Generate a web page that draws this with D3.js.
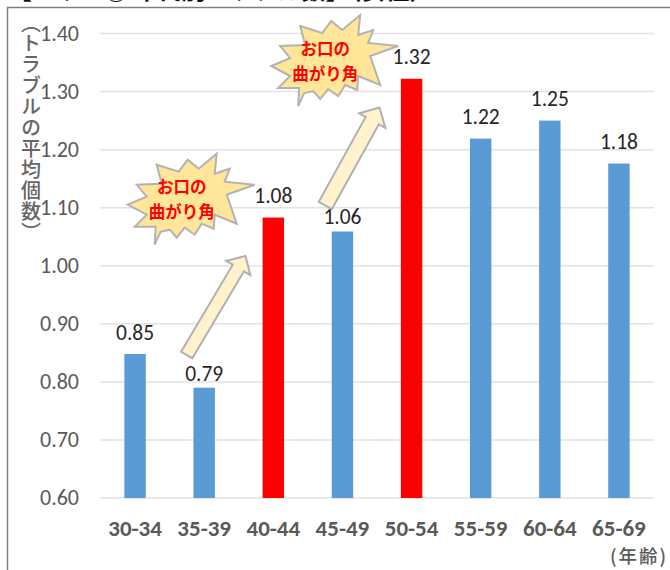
<!DOCTYPE html>
<html><head><meta charset="utf-8">
<style>html,body{margin:0;padding:0;background:#fff}svg{display:block}</style>
<script src="https://cdn.jsdelivr.net/npm/d3@7/dist/d3.min.js"></script></head>
<body><svg id="c" width="670" height="570"></svg>
<script>
const categories=["30-34","35-39","40-44","45-49","50-54","55-59","60-64","65-69"];
const values=[0.848,0.79,1.083,1.059,1.322,1.219,1.25,1.176];
const valueLabels=["0.85","0.79","1.08","1.06","1.32","1.22","1.25","1.18"];
const highlighted=["40-44","50-54"];
const tightLabels=["35-39","45-49"];
const yTicks=[0.6,0.7,0.8,0.9,1.0,1.1,1.2,1.3,1.4];
const yTitle="（トラブルの平均個数）";
const xUnit="(年齢)";
const heading="【ハリ・③ 年代別トラブル数】（女性）";
const burstText=["お口の","曲がり角"];

const burstShape=[[-30,-32],[-8,-25],[1,-37],[12,-28],[30,-43],[28,-23],[43,-28],[38,-15],[68,-12],[40,-2],[50,27],[28,18],[27,32],[15,27],[8,38],[-2,31],[-10,41],[-17,33],[-26,35],[-32,48],[-31,30],[-52,30],[-40,18],[-59,8],[-40,0],[-50,-12],[-25,-13]];
const font="Calibri,Carlito,'Liberation Sans','Noto Sans CJK JP',sans-serif";
const cjk="'Noto Sans CJK JP',sans-serif";
const svg=d3.select("#c");
const m={l:100,r:654,t:33.5,b:498};
const x=d3.scaleBand().domain(categories).range([100.5,653.5]).paddingInner(0.69).paddingOuter(0.345);
const y=d3.scaleLinear().domain([0.6,1.4]).range([m.b,m.t]);
const cx=d=>x(d)+x.bandwidth()/2;

svg.append("path").attr("d","M7.5,570V7.5H670").attr("fill","none").attr("stroke","#7f7f7f").attr("stroke-width",1.5);
svg.append("text").attr("x",8).attr("y",-1).attr("font-family",cjk).attr("font-size",24).attr("font-weight",700).attr("fill","#111").text(heading);

svg.append("g").selectAll("line").data(yTicks).join("line")
 .attr("x1",m.l).attr("x2",m.r).attr("y1",d=>y(d)).attr("y2",d=>y(d))
 .attr("stroke","#e2e2e2").attr("stroke-width",1.5);
svg.append("g").selectAll("text").data(yTicks).join("text")
 .attr("x",79).attr("y",d=>y(d)+7).attr("text-anchor","end")
 .attr("font-family",font).attr("font-size",22).attr("fill","#595959").text(d=>d3.format(".2f")(d));
svg.append("text").attr("x",31).attr("y",13)
 .style("writing-mode","vertical-rl").style("letter-spacing","0.9px")
 .attr("font-family",cjk).attr("font-size",20).attr("font-weight",500).attr("fill","#666").text(yTitle);

svg.append("g").selectAll("rect").data(categories).join("rect")
 .attr("x",d=>x(d)).attr("width",x.bandwidth())
 .attr("y",(d,i)=>y(values[i])).attr("height",(d,i)=>m.b-y(values[i]))
 .attr("fill",d=>highlighted.includes(d)?"#ff0000":"#5b9bd5");
svg.append("g").selectAll("text").data(categories).join("text")
 .attr("x",cx).attr("y",(d,i)=>y(values[i])-(tightLabels.includes(d)?7:14.5)).attr("text-anchor","middle")
 .attr("font-family",font).attr("font-size",21.5).attr("fill","#262626").text((d,i)=>valueLabels[i]);
svg.append("g").selectAll("text").data(categories).join("text")
 .attr("x",cx).attr("y",536).attr("text-anchor","middle")
 .attr("font-family",font).attr("font-size",23).attr("font-weight",700).attr("fill","#595959").text(d=>d);
svg.append("text").attr("x",610).attr("y",563).attr("font-family",cjk).attr("font-size",18.5).attr("font-weight",500).attr("letter-spacing",2).attr("fill","#595959").text(xUnit);

const line=d3.line();
function arrow(tail,tip,sw,hw,hl){
 const ang=Math.atan2(tip[1]-tail[1],tip[0]-tail[0])*180/Math.PI,len=Math.hypot(tip[0]-tail[0],tip[1]-tail[1]);
 const pts=[[0,-sw/2],[len-hl,-sw/2],[len-hl,-hw/2],[len,0],[len-hl,hw/2],[len-hl,sw/2],[0,sw/2]];
 svg.append("path").attr("d",line(pts)+"Z").attr("transform",`translate(${tail[0]},${tail[1]}) rotate(${ang})`)
  .attr("fill","#fff2cc").attr("stroke","#b0b0b0").attr("stroke-width",2).attr("stroke-linejoin","miter");
}
arrow([186.7,355],[245.5,256],13,28,14);
arrow([325.3,205.5],[379.5,107.5],15,30,15);

function burst(bx,by){
 const g=svg.append("g").attr("transform",`translate(${bx},${by})`);
 g.append("path").attr("d",line(burstShape)+"Z").attr("fill","#ffe699").attr("stroke","#b3b3b3").attr("stroke-width",2);
 g.selectAll("text").data(burstText).join("text").attr("x",-5).attr("y",(d,i)=>i?21.5:-3.5).attr("text-anchor","middle")
  .attr("font-family",cjk).attr("font-size",16.5).attr("font-weight",700).attr("fill","#ff0000").text(d=>d);
}
burst(186.7,196.7);
burst(330.2,58);
</script></body></html>
